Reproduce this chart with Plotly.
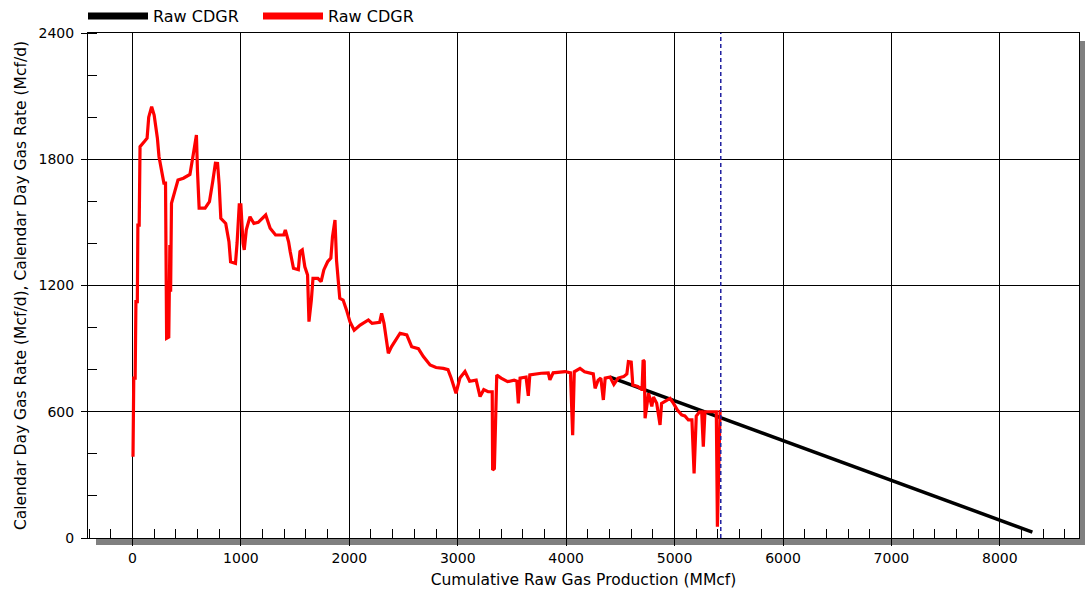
import plotly.graph_objects as go

# Red "Raw CDGR" history: cumulative gas (MMcf) vs calendar-day gas rate (Mcf/d)
hist_cum = [5, 12, 25, 32, 45, 50, 62, 70, 110, 135, 150, 177, 200, 230, 245, 275, 290, 305,
            315, 335, 345, 352, 360, 390, 420, 470, 530, 560, 590, 600, 615, 670, 710, 740,
            765, 785, 800, 815, 860, 890, 905, 950, 965, 985, 1000, 1020, 1031, 1050, 1084,
            1120, 1160, 1229, 1270, 1320, 1395, 1410, 1440, 1455, 1485, 1530, 1545, 1566,
            1590, 1615, 1628, 1650, 1665, 1710, 1740, 1765, 1800, 1830, 1845, 1868, 1882,
            1912, 1943, 1974, 2006, 2045, 2100, 2176, 2210, 2280, 2298, 2320, 2360, 2390,
            2468, 2530, 2575, 2637, 2683, 2745, 2800, 2867, 2910, 2940, 2984, 3020, 3067,
            3110, 3170, 3206, 3240, 3280, 3318, 3322, 3338, 3360, 3400, 3460, 3520, 3545,
            3559, 3575, 3630, 3651, 3665, 3770, 3835, 3850, 3880, 3990, 4040, 4060, 4075,
            4128, 4170, 4250, 4267, 4295, 4320, 4343, 4360, 4405, 4440, 4480, 4530, 4560,
            4574, 4600, 4615, 4660, 4700, 4710, 4720, 4728, 4760, 4790, 4805, 4835, 4866,
            4880, 4925, 4958, 4990, 5026, 5065, 5095, 5127, 5160, 5180, 5200, 5230, 5250,
            5265, 5280, 5340, 5385, 5395, 5420]
hist_rate = [386, 760, 760, 1123, 1123, 1487, 1487, 1860, 1884, 1900, 2000, 2050, 2010, 1900,
             1812, 1734, 1687, 1687, 949, 955, 1392, 1170, 1591, 1646, 1701, 1710, 1728, 1820,
             1915, 1741, 1568, 1568, 1598, 1693, 1781, 1780, 1678, 1519, 1495, 1408, 1313,
             1305, 1402, 1583, 1583, 1400, 1369, 1465, 1527, 1495, 1500, 1535, 1472, 1440,
             1440, 1464, 1408, 1361, 1282, 1275, 1361, 1369, 1289, 1250, 1028, 1131, 1234,
             1234, 1218, 1274, 1313, 1330, 1432, 1511, 1321, 1139, 1131, 1084, 1028, 988,
             1012, 1036, 1020, 1025, 1068, 1020, 878, 910, 973, 965, 909, 900, 862, 822, 810,
             806, 800, 759, 688, 760, 791, 745, 750, 672, 705, 695, 695, 323, 330, 775, 760,
             743, 750, 745, 640, 760, 765, 676, 775, 783, 785, 752, 785, 791, 785, 489, 790,
             806, 790, 780, 711, 750, 760, 656, 760, 765, 730, 760, 767, 780, 838, 836, 727,
             720, 705, 846, 840, 569, 688, 625, 670, 640, 537, 640, 656, 664, 640, 608, 585,
             580, 561, 561, 307, 580, 600, 600, 434, 600, 600, 600, 54, 608]

# Black "Raw CDGR" forecast
fc_cum = [4405, 4800, 5200, 5600, 6000, 6400, 6800, 7200, 7600, 8000, 8300]
fc_rate = [765, 690, 613, 537, 461, 385, 310, 235, 160, 85, 28]

cutoff_cum = 5426
legend_names = ["Raw CDGR", "Raw CDGR"]
x_ticks = [0, 1000, 2000, 3000, 4000, 5000, 6000, 7000, 8000]
y_ticks = [0, 600, 1200, 1800, 2400]

FONT = "DejaVu Sans"

fig = go.Figure()
fig.add_trace(go.Scatter(x=fc_cum, y=fc_rate, mode="lines", line=dict(color="black", width=3.5),
                         showlegend=False))
fig.add_trace(go.Scatter(x=hist_cum, y=hist_rate, mode="lines", line=dict(color="#ff0000", width=3.2),
                         showlegend=False))
# legend-only entries (thicker sample lines)
fig.add_trace(go.Scatter(x=[None], y=[None], mode="lines", name=legend_names[0],
                         line=dict(color="black", width=7)))
fig.add_trace(go.Scatter(x=[None], y=[None], mode="lines", name=legend_names[1],
                         line=dict(color="#ff0000", width=7)))

fig.add_vline(x=cutoff_cum, line=dict(color="#2020a0", width=1.5, dash="4px,3px"), layer="above")

W, H = 1088, 591
L, R, T, B = 88, 9, 33, 53
pw, ph = W - L - R, H - T - B
shadow = "#808080"
fig.add_shape(type="rect", xref="paper", yref="paper", x0=1, x1=1 + 6 / pw,
              y0=-7 / ph, y1=1 - 8 / ph, fillcolor=shadow, line_width=0, layer="below")
fig.add_shape(type="rect", xref="paper", yref="paper", x0=8 / pw, x1=1 + 6 / pw,
              y0=-7 / ph, y1=0, fillcolor=shadow, line_width=0, layer="below")

fig.update_layout(
    width=W, height=H,
    margin=dict(l=L, r=R, t=T, b=B, autoexpand=False),
    paper_bgcolor="white", plot_bgcolor="white",
    font=dict(family=FONT, size=14, color="black"),
    legend=dict(orientation="h", x=-5 / pw, y=1, xanchor="left", yanchor="bottom",
                font=dict(family=FONT, size=16, color="black"), itemwidth=60,
                entrywidth=100, entrywidthmode="pixels",
                bgcolor="rgba(0,0,0,0)", tracegroupgap=0),
)
fig.update_xaxes(
    range=[-410, 8730], tickvals=x_ticks, showgrid=True, gridcolor="black", gridwidth=1,
    showline=True, linecolor="black", linewidth=1, mirror=True, zeroline=False,
    ticks="outside", ticklen=7, tickcolor="black",
    minor=dict(dtick=200, tick0=0, ticks="inside", ticklen=9, tickcolor="black", showgrid=False),
    tickfont=dict(family=FONT, size=14),
    title=dict(text="Cumulative Raw Gas Production (MMcf)", standoff=9, font=dict(family=FONT, size=15.5)),
)
fig.update_yaxes(
    range=[0, 2400], tickvals=y_ticks, showgrid=True, gridcolor="black", gridwidth=1,
    showline=True, linecolor="black", linewidth=1, mirror=True, zeroline=False,
    ticks="outside", ticklen=6, tickcolor="black", ticklabelstandoff=4,
    minor=dict(dtick=200, tick0=0, ticks="inside", ticklen=9, tickcolor="black", showgrid=False),
    tickfont=dict(family=FONT, size=14),
    title=dict(text="Calendar Day Gas Rate (Mcf/d), Calendar Day Gas Rate (Mcf/d)", standoff=8,
               font=dict(family=FONT, size=15.5)),
)

fig.write_html("out.html", config={"displayModeBar": False},
               post_script="document.body.style.margin='0';document.body.style.overflow='hidden';")
